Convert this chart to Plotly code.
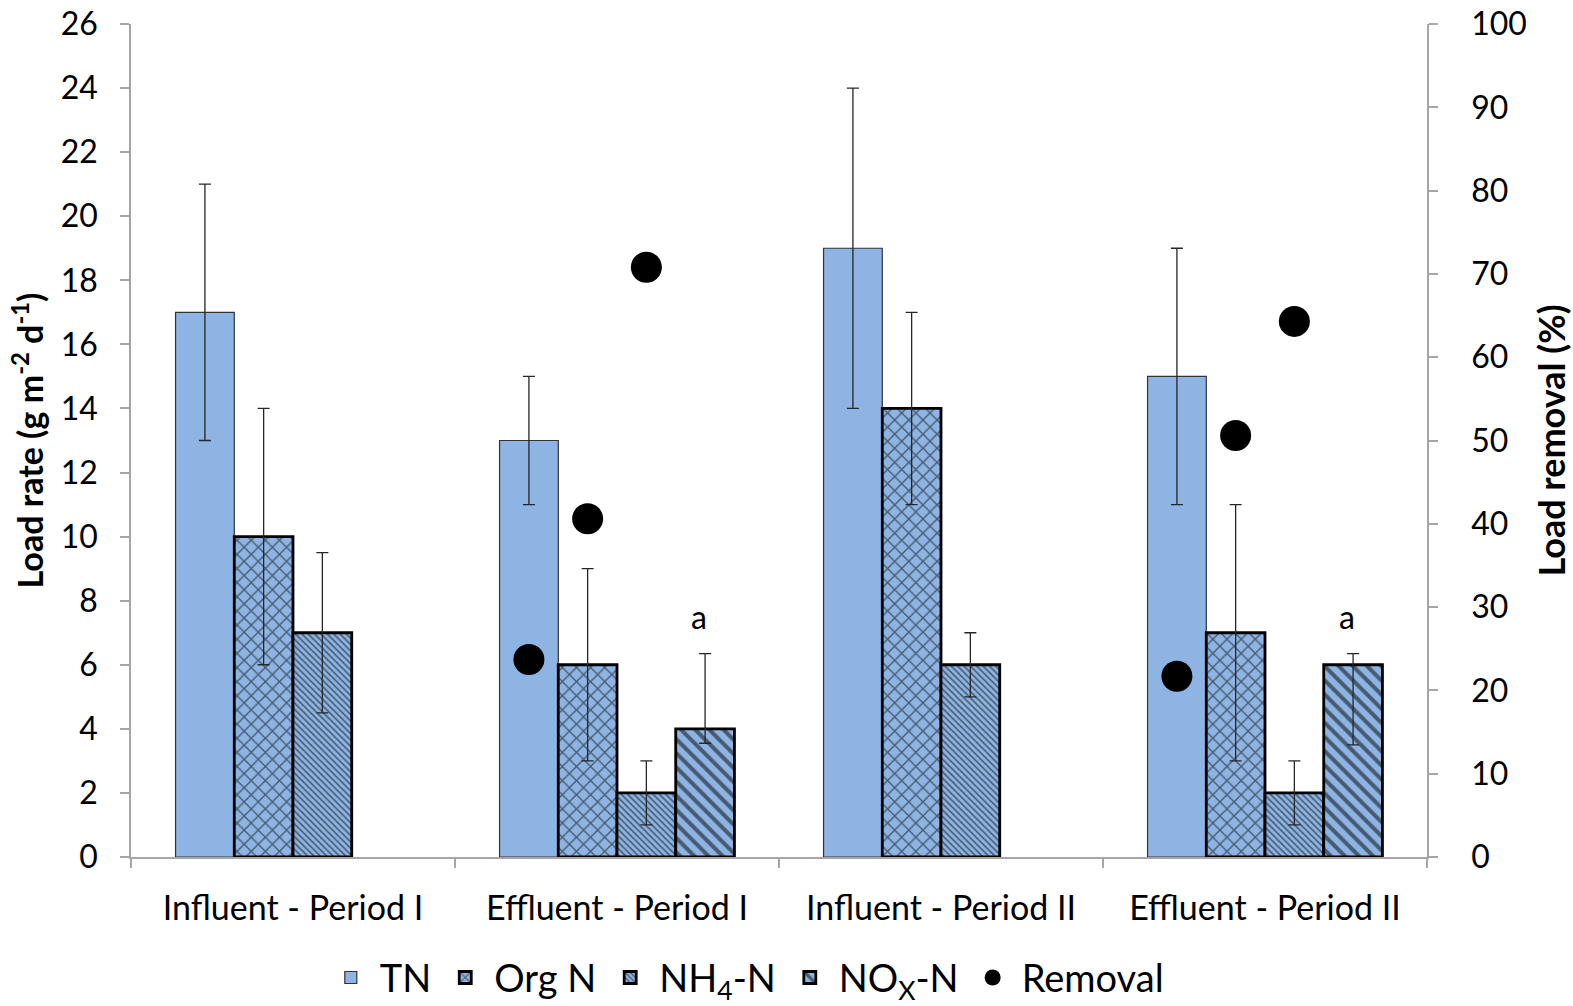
import plotly.graph_objects as go

categories = ["Influent - Period I", "Effluent - Period I", "Influent - Period II", "Effluent - Period II"]

tn = [17, 13, 19, 15]
tn_err_plus = [4, 2, 5, 4]
tn_err_minus = [4, 2, 5, 4]

orgn = [10, 6, 14, 7]
orgn_err_plus = [4, 3, 3, 4]
orgn_err_minus = [4, 3, 3, 4]

nh4 = [7, 2, 6, 2]
nh4_err_plus = [2.5, 1, 1, 1]
nh4_err_minus = [2.5, 1, 1, 1]

nox = [None, 4, None, 6]
nox_err_plus = [0, 2.35, 0, 0.35]
nox_err_minus = [0, 0.45, 0, 2.5]

# removal (%) for TN, Org N, NH4-N in effluent groups
removal_cat = [1, 1, 1, 3, 3, 3]
removal_slot = [0, 1, 2, 0, 1, 2]
removal = [23.7, 40.6, 70.8, 21.7, 50.6, 64.3]

sig_cat = [1, 3]
sig_slot = [3, 3]
sig_y = [7.5, 7.5]
sig_text = ["a", "a"]

FONT = "Lato"
BLUE = "#8DB4E2"
BARGAP = 0.275
NSER = 4
bw = (1 - BARGAP) / NSER

def slot_x(c, s):
    return c + (s - (NSER - 1) / 2) * bw

xs = list(range(len(categories)))
fig = go.Figure()

def add_bar(name, vals, ep, em, shape, size, solidity, lw, lc):
    fig.add_trace(go.Bar(
        name=name, x=xs, y=vals,
        marker=dict(color=BLUE, line=dict(color=lc, width=lw),
                    pattern=dict(shape=shape, size=size, solidity=solidity,
                                 fgcolor="#000000", fillmode="overlay")),
        error_y=dict(type="data", symmetric=False, array=ep, arrayminus=em,
                     color="#262626", thickness=1.3, width=6),
    ))

add_bar("TN", tn, tn_err_plus, tn_err_minus, "", 8, 0.2, 1.2, "#333333")
add_bar("Org N", orgn, orgn_err_plus, orgn_err_minus, "x", 10, 0.25, 2.8, "#000000")
add_bar("NH<sub>4</sub>-N", nh4, nh4_err_plus, nh4_err_minus, "\\", 4.5, 0.35, 2.8, "#000000")
add_bar("NO<sub>X</sub>-N", nox, nox_err_plus, nox_err_minus, "\\", 10, 0.4, 2.8, "#000000")

fig.add_trace(go.Scatter(
    name="Removal",
    x=[slot_x(c, s) for c, s in zip(removal_cat, removal_slot)],
    y=removal, mode="markers", yaxis="y2",
    marker=dict(color="#000000", size=31),
))

for c, s, yv, t in zip(sig_cat, sig_slot, sig_y, sig_text):
    fig.add_annotation(x=slot_x(c, s) - 0.02, y=yv, text=t, showarrow=False,
                       font=dict(family=FONT, size=32, color="#000000"), yanchor="middle")

fig.update_layout(
    width=1573, height=1006,
    margin=dict(l=131, r=146, t=24, b=149, autoexpand=False),
    paper_bgcolor="white", plot_bgcolor="white",
    barmode="group", bargap=BARGAP, bargroupgap=0,
    font=dict(family=FONT, size=30, color="#000000"),
    xaxis=dict(
        range=[-0.5, 3.5], tickmode="array", tickvals=xs, ticktext=categories,
        ticks="", showline=True, linecolor="#A6A6A6", linewidth=1.5,
        showgrid=False, zeroline=False, ticklabelstandoff=20, automargin=False,
        ticklabeloverflow="allow",
        tickfont=dict(family=FONT, size=34),
        minor=dict(tickmode="linear", tick0=-0.5, dtick=1, ticks="outside",
                   ticklen=9, tickcolor="#A6A6A6", tickwidth=1.5, showgrid=False),
    ),
    yaxis=dict(
        range=[0, 26], tickmode="linear", tick0=0, dtick=2,
        ticks="outside", ticklen=9, tickcolor="#A6A6A6", tickwidth=1.5,
        showline=True, linecolor="#A6A6A6", linewidth=1.5,
        showgrid=False, zeroline=False, ticklabelstandoff=16, automargin=False,
        ticklabeloverflow="allow",
        tickfont=dict(family=FONT, size=32),
        title=dict(text="<b>Load rate (g m<sup>-2</sup> d<sup>-1</sup>)</b>",
                   font=dict(family=FONT, size=34), standoff=7),
    ),
    yaxis2=dict(
        range=[0, 100], tickmode="linear", tick0=0, dtick=10,
        overlaying="y", side="right", anchor="x",
        ticks="outside", ticklen=9, tickcolor="#A6A6A6", tickwidth=1.5,
        showline=True, linecolor="#A6A6A6", linewidth=1.5,
        showgrid=False, zeroline=False, ticklabelstandoff=27, automargin=False,
        ticklabeloverflow="allow",
        tickfont=dict(family=FONT, size=32),
        title=dict(text="<b>Load removal (%)</b>", font=dict(family=FONT, size=36), standoff=18),
    ),
    legend=dict(orientation="h", x=0.474, xanchor="center", y=-0.145, yanchor="middle",
                font=dict(family=FONT, size=38), itemwidth=48, tracegroupgap=0,
                bgcolor="rgba(0,0,0,0)"),
    showlegend=True,
)

fig.write_html("out.html", config={"displayModeBar": False},
               post_script="document.body.style.margin='0px';")
